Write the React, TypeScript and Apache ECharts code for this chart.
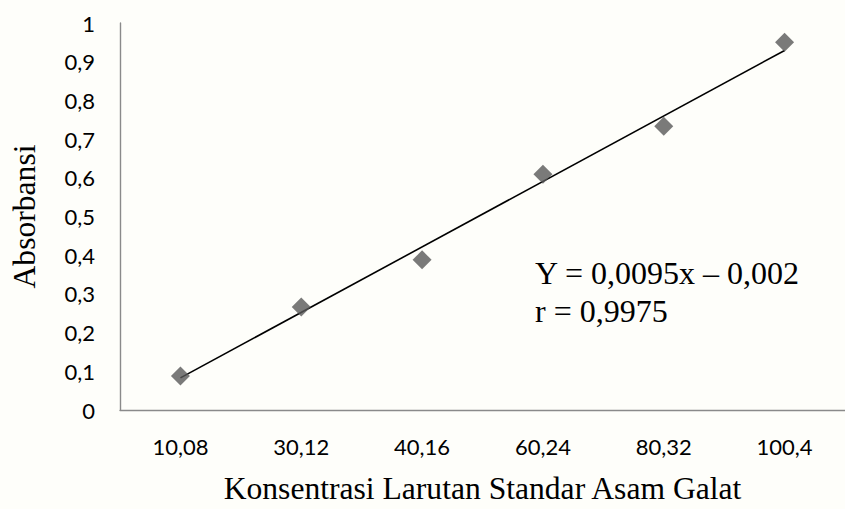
import React, { useEffect, useRef } from "react";
import * as echarts from "echarts";

const categories = ["10,08", "30,12", "40,16", "60,24", "80,32", "100,4"];
const absorbance = [0.088, 0.266, 0.388, 0.609, 0.733, 0.95];
const trendStart = 0.083;
const trendEnd = 0.929;
const yTicks = [0, 0.1, 0.2, 0.3, 0.4, 0.5, 0.6, 0.7, 0.8, 0.9, 1];
const equationLines = ["Y = 0,0095x – 0,002", "r = 0,9975"];

export default function App() {
  const ref = useRef<HTMLDivElement>(null);
  useEffect(() => {
    if (!ref.current) return;
    const chart = echarts.init(ref.current, null, { renderer: "svg" });
    const trendData = categories.map((_, i) =>
      i === 0 ? trendStart : i === categories.length - 1 ? trendEnd : null
    );
    chart.setOption({
      animation: false,
      backgroundColor: "#fefefa",
      grid: { left: 108, top: 23, width: 750, bottom: 92.5, containLabel: false },
      xAxis: {
        type: "category",
        data: categories,
        boundaryGap: true,
        axisLine: { show: true, lineStyle: { color: "#8a8a8a", width: 1.4 } },
        axisTick: { show: false },
        axisLabel: {
          color: "#000",
          fontFamily: "Lato",
          fontSize: 22,
          margin: 25,
        },
        name: "Konsentrasi Larutan Standar Asam Galat",
        nameLocation: "middle",
        nameGap: 62,
        nameTextStyle: {
          color: "#000",
          fontFamily: "Liberation Serif",
          fontSize: 31.6,
        },
        splitLine: { show: false },
      },
      yAxis: {
        type: "value",
        min: 0,
        max: 1,
        interval: 0.1,
        axisLine: { show: true, lineStyle: { color: "#8a8a8a", width: 1.4 } },
        axisTick: { show: false },
        splitLine: { show: false },
        axisLabel: {
          color: "#000",
          fontFamily: "Lato",
          fontSize: 22,
          margin: 25,
          formatter: (v: number) => {
            const t = yTicks.find((x) => Math.abs(x - v) < 1e-9);
            const val = t !== undefined ? t : v;
            return String(Math.round(val * 10) / 10).replace(".", ",");
          },
        },
        name: "Absorbansi",
        nameLocation: "middle",
        nameGap: 80,
        nameRotate: 90,
        nameTextStyle: {
          color: "#000",
          fontFamily: "Liberation Serif",
          fontSize: 31.6,
        },
      },
      series: [
        {
          type: "line",
          data: trendData,
          connectNulls: true,
          symbol: "none",
          lineStyle: { color: "#000", width: 1.6 },
          z: 2,
        },
        {
          type: "scatter",
          data: absorbance,
          symbol: "diamond",
          symbolSize: 19,
          itemStyle: { color: "#595959" },
          z: 3,
        },
      ],
      graphic: [
        {
          type: "text",
          left: 535,
          top: 253.6,
          style: {
            text: equationLines.join("\n"),
            font: "32px 'Liberation Serif'",
            fill: "#000",
            lineHeight: 38.6,
          },
        },
      ],
    });
    return () => chart.dispose();
  }, []);
  return (
    <div
      ref={ref}
      style={{ position: "fixed", left: 0, top: 0, width: 845, height: 509 }}
    />
  );
}
